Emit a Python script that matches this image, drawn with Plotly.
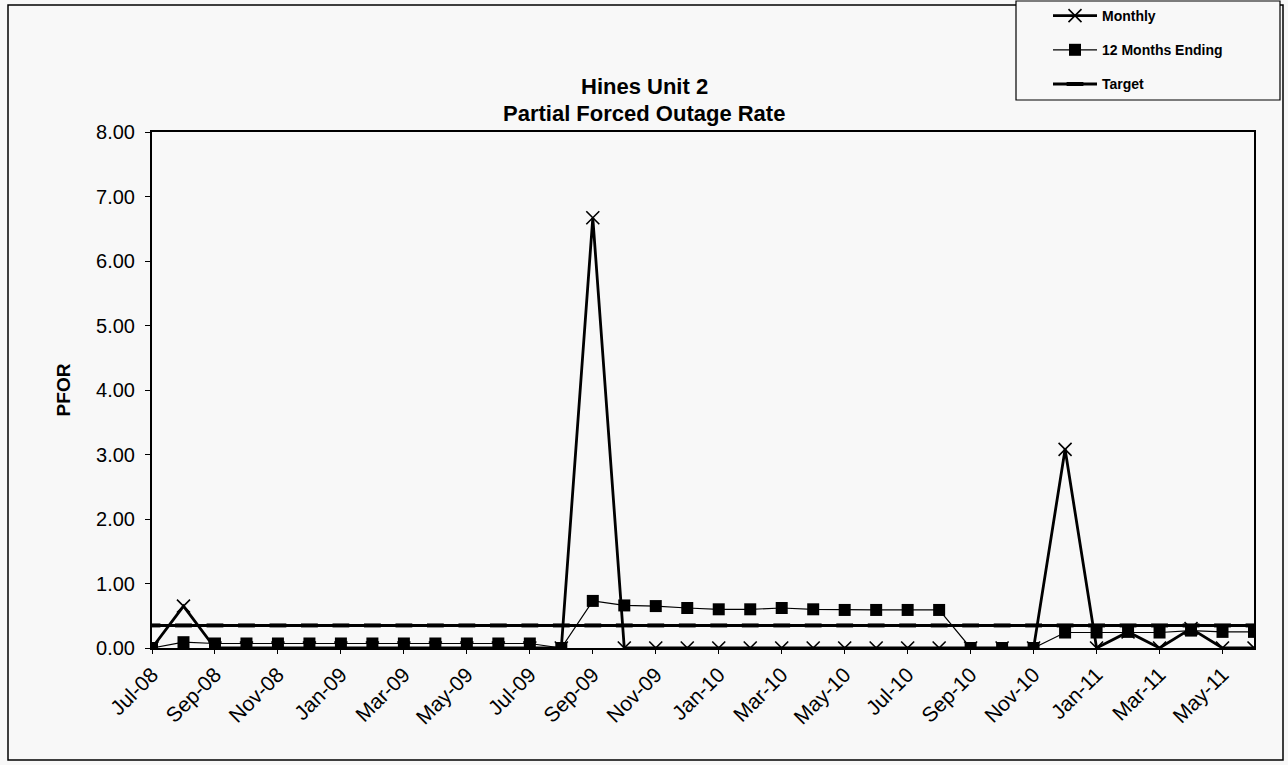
import plotly.graph_objects as go

months = ["Jul-08","Aug-08","Sep-08","Oct-08","Nov-08","Dec-08","Jan-09","Feb-09","Mar-09","Apr-09","May-09","Jun-09",
          "Jul-09","Aug-09","Sep-09","Oct-09","Nov-09","Dec-09","Jan-10","Feb-10","Mar-10","Apr-10","May-10","Jun-10",
          "Jul-10","Aug-10","Sep-10","Oct-10","Nov-10","Dec-10","Jan-11","Feb-11","Mar-11","Apr-11","May-11","Jun-11"]

monthly = [0.00, 0.65, 0.00, 0.00, 0.00, 0.00, 0.00, 0.00, 0.00, 0.00, 0.00, 0.00,
           0.00, 0.00, 6.67, 0.00, 0.00, 0.00, 0.00, 0.00, 0.00, 0.00, 0.00, 0.00,
           0.00, 0.00, 0.00, 0.00, 0.00, 3.08, 0.00, 0.25, 0.00, 0.30, 0.00, 0.00]

twelve_month = [0.00, 0.09, 0.07, 0.07, 0.07, 0.07, 0.07, 0.07, 0.07, 0.07, 0.07, 0.07,
                0.07, 0.00, 0.73, 0.66, 0.65, 0.62, 0.60, 0.60, 0.62, 0.60, 0.59, 0.59,
                0.59, 0.59, 0.00, 0.00, 0.00, 0.24, 0.24, 0.25, 0.24, 0.27, 0.25, 0.25]

target = [0.35] * len(months)

tick_labels = months[::2]

title_lines = ["Hines Unit 2", "Partial Forced Outage Rate"]

FONT = "Liberation Sans, Arial, sans-serif"
W, H = 1288, 765
L, R, T, B = 152, 34, 132, 117
pw, ph = W - L - R, H - T - B

fig = go.Figure()
fig.add_trace(go.Scatter(
    x=months, y=target, name="Target", mode="lines+markers",
    line=dict(color="black", width=3),
    marker=dict(symbol="line-ew", size=12, line=dict(color="black", width=4)),
    legendgroup="c", legendrank=3))
fig.add_trace(go.Scatter(
    x=months, y=twelve_month, name="12 Months Ending", mode="lines+markers",
    line=dict(color="black", width=1.2),
    marker=dict(symbol="square", size=12, color="black"),
    legendgroup="b", legendrank=2))
fig.add_trace(go.Scatter(
    x=months, y=monthly, name="Monthly", mode="lines+markers",
    line=dict(color="black", width=2.8),
    marker=dict(symbol="x-thin", size=13, line=dict(color="black", width=1.6)),
    legendgroup="a", legendrank=1))

def px(x):
    return (x - L) / pw

def py(y):
    return (H - B - y) / ph

annotations = [
    dict(text="<b>%s</b>" % title_lines[0], xref="paper", yref="paper",
         x=px(W / 2), y=py(86), xanchor="center", yanchor="middle",
         showarrow=False, font=dict(size=22, family=FONT, color="black")),
    dict(text="<b>%s</b>" % title_lines[1], xref="paper", yref="paper",
         x=px(W / 2), y=py(114), xanchor="center", yanchor="middle",
         showarrow=False, font=dict(size=22, family=FONT, color="black")),
]

fig.update_layout(
    width=W, height=H,
    margin=dict(l=L, r=R, t=T, b=B, autoexpand=False),
    paper_bgcolor="#f8f8f8", plot_bgcolor="#f8f8f8",
    font=dict(family=FONT, color="black"),
    showlegend=True,
    legend=dict(xref="container", yref="container",
                x=1048 / W, xanchor="left", y=1 + 4 / H, yanchor="top",
                bgcolor="rgba(0,0,0,0)", borderwidth=0,
                font=dict(size=14, family=FONT, color="black", weight="bold"),
                tracegroupgap=13, itemwidth=44, traceorder="grouped"),
    xaxis=dict(type="category", categoryorder="array", categoryarray=months,
               range=[0, len(months) - 1], tickmode="array",
               tickvals=tick_labels, ticktext=tick_labels, tickangle=-45,
               tickfont=dict(size=21, family=FONT),
               showgrid=False, zeroline=False, showline=True, linecolor="black",
               linewidth=2, mirror=True, ticks="outside", ticklen=4, tickcolor="black"),
    yaxis=dict(range=[0, 8], tickvals=[0, 1, 2, 3, 4, 5, 6, 7, 8],
               tickformat=".2f", tickfont=dict(size=20, family=FONT),
               ticklabelstandoff=6,
               title=dict(text="<b>PFOR</b>", font=dict(size=19, family=FONT), standoff=20),
               showgrid=False, zeroline=False, showline=True, linecolor="black",
               linewidth=2, mirror=True, ticks="outside", ticklen=5, tickcolor="black"),
    annotations=annotations,
    shapes=[dict(type="rect", xref="paper", yref="paper",
                 x0=px(8), x1=px(1283), y0=py(760), y1=py(5),
                 line=dict(color="black", width=1.5), layer="below"),
            dict(type="rect", xref="paper", yref="paper",
                 x0=px(1016), x1=px(1280), y0=py(100), y1=py(1),
                 line=dict(color="black", width=1.2), fillcolor="#f8f8f8", layer="below")],
)

fig.write_html("out.html", config={"displayModeBar": False},
               post_script="document.body.style.margin='0';")
